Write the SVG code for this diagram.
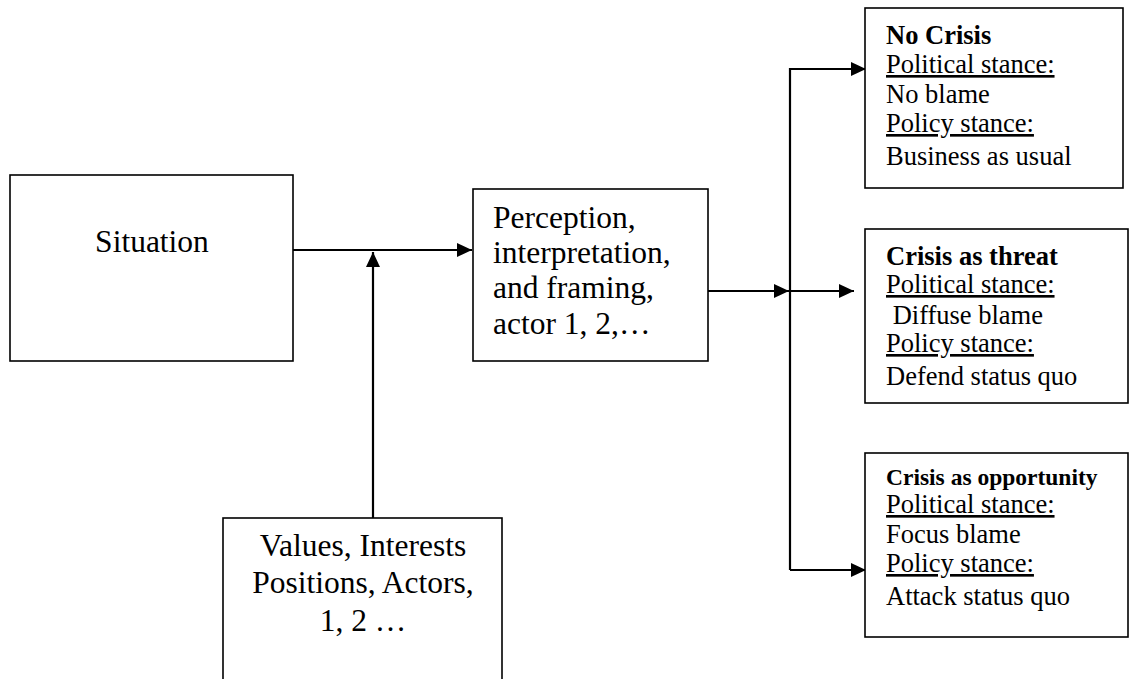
<svg xmlns="http://www.w3.org/2000/svg" width="1130" height="679" viewBox="0 0 1130 679">
<style>
.box{fill:#fff;stroke:#000;stroke-width:1.6}
.ln{fill:none;stroke:#000;stroke-width:2.2}
.t{font-family:"Liberation Serif","Times New Roman",serif;fill:#000}
.big{font-size:31.5px}
.sm{font-size:26.5px}
.b{font-weight:bold}
.u{text-decoration:underline}
</style>
<defs>
<marker id="ah" viewBox="0 0 15 14" refX="15" refY="7" markerWidth="15" markerHeight="14" markerUnits="userSpaceOnUse" orient="auto">
<path d="M0,0 L15,7 L0,14 Z" fill="#000"/>
</marker>
</defs>
<g id="connectors">
<line class="ln" x1="293" y1="250" x2="472" y2="250" marker-end="url(#ah)"/>
<line class="ln" x1="373" y1="518" x2="373" y2="252" marker-end="url(#ah)"/>
<line class="ln" x1="708" y1="291" x2="789" y2="291" marker-end="url(#ah)"/>
<line class="ln" x1="790" y1="291" x2="854" y2="291" marker-end="url(#ah)"/>
<polyline class="ln" points="790,570 790,69 866,69" marker-end="url(#ah)"/>
<line class="ln" x1="790" y1="570" x2="866" y2="570" marker-end="url(#ah)"/>
</g>
<g id="situation">
<rect class="box" x="10" y="175" width="283" height="186"/>
<text class="t big" x="152" y="252" text-anchor="middle">Situation</text>
</g>
<g id="perception">
<rect class="box" x="473" y="189" width="235" height="172"/>
<text class="t big" x="493" y="228">Perception,</text>
<text class="t big" x="493" y="263">interpretation,</text>
<text class="t big" x="493" y="298">and framing,</text>
<text class="t big" x="493" y="334">actor 1, 2,…</text>
</g>
<g id="values">
<rect class="box" x="223" y="518" width="279" height="170"/>
<text class="t big" x="363" y="556" text-anchor="middle">Values, Interests</text>
<text class="t big" x="363" y="593" text-anchor="middle">Positions, Actors,</text>
<text class="t big" x="363" y="631" text-anchor="middle">1, 2 …</text>
</g>
<g id="no-crisis">
<rect class="box" x="865" y="8" width="258" height="180"/>
<text class="t sm b" x="886" y="44">No Crisis</text>
<text class="t sm u" x="886" y="73">Political stance:</text>
<text class="t sm" x="886" y="103">No blame</text>
<text class="t sm u" x="886" y="132">Policy stance:</text>
<text class="t sm" x="886" y="165">Business as usual</text>
</g>
<g id="threat">
<rect class="box" x="865" y="229" width="263" height="174"/>
<text class="t sm b" x="886" y="265">Crisis as threat</text>
<text class="t sm u" x="886" y="293">Political stance:</text>
<text class="t sm" x="886" y="324" xml:space="preserve"> Diffuse blame</text>
<text class="t sm u" x="886" y="352">Policy stance:</text>
<text class="t sm" x="886" y="385">Defend status quo</text>
</g>
<g id="opportunity">
<rect class="box" x="865" y="453" width="263" height="184"/>
<text class="t b" style="font-size:23.5px" x="886" y="485">Crisis as opportunity</text>
<text class="t sm u" x="886" y="513">Political stance:</text>
<text class="t sm" x="886" y="543">Focus blame</text>
<text class="t sm u" x="886" y="572">Policy stance:</text>
<text class="t sm" x="886" y="605">Attack status quo</text>
</g>
</svg>
